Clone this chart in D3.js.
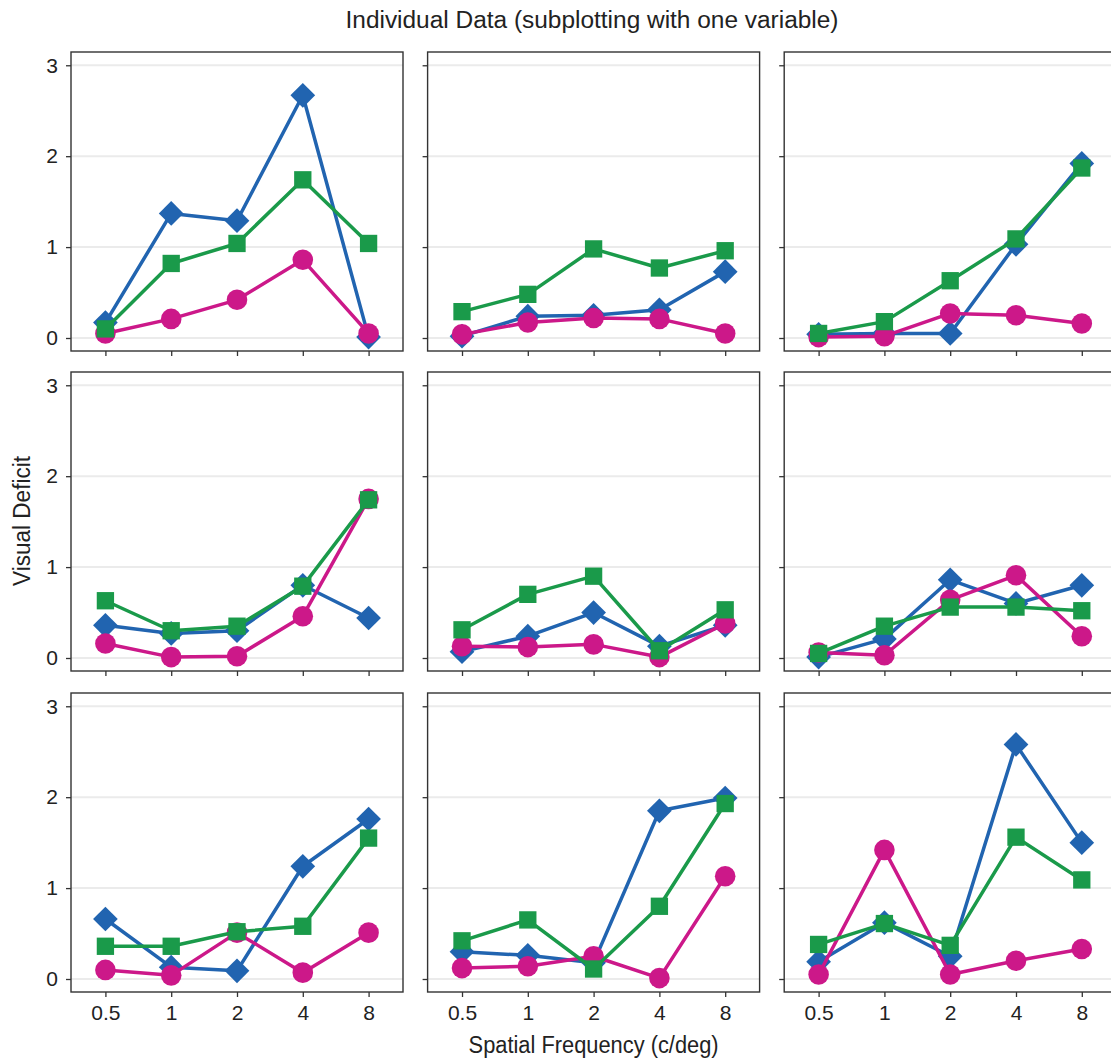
<!DOCTYPE html>
<html>
<head>
<meta charset="utf-8">
<script src="https://cdn.jsdelivr.net/npm/d3@7"></script>
<style>
  body { margin: 0; background: #fff; }
  svg { display: block; }
  text { font-family: "Liberation Sans", Arial, sans-serif; fill: #222; }
</style>
</head>
<body>
<svg id="chart" width="1111" height="1063"></svg>
<script>
// Spatial frequencies (c/deg) shown along every x axis
const frequencies = ["0.5", "1", "2", "4", "8"];
const yTicks = [0, 1, 2, 3];

// One row of five values per observer (panels read left-to-right, top-to-bottom)
const diamondSeries = [
  [0.17, 1.37, 1.29, 2.67, 0.01],
  [0.02, 0.24, 0.25, 0.31, 0.73],
  [0.04, 0.05, 0.05, 1.03, 1.92],
  [0.36, 0.27, 0.30, 0.80, 0.44],
  [0.07, 0.24, 0.50, 0.13, 0.36],
  [0.01, 0.21, 0.86, 0.60, 0.80],
  [0.66, 0.13, 0.09, 1.24, 1.76],
  [0.30, 0.26, 0.18, 1.85, 1.99],
  [0.19, 0.62, 0.25, 2.58, 1.50]
];
const circleSeries = [
  [0.05, 0.21, 0.42, 0.86, 0.05],
  [0.04, 0.17, 0.22, 0.21, 0.05],
  [0.01, 0.02, 0.27, 0.25, 0.16],
  [0.16, 0.01, 0.02, 0.46, 1.75],
  [0.13, 0.12, 0.15, 0.01, 0.38],
  [0.06, 0.03, 0.64, 0.91, 0.24],
  [0.10, 0.04, 0.51, 0.07, 0.51],
  [0.12, 0.14, 0.25, 0.01, 1.13],
  [0.05, 1.42, 0.05, 0.20, 0.33]
];
const squareSeries = [
  [0.10, 0.82, 1.04, 1.74, 1.04],
  [0.29, 0.48, 0.98, 0.77, 0.96],
  [0.05, 0.18, 0.63, 1.09, 1.87],
  [0.63, 0.30, 0.35, 0.79, 1.74],
  [0.31, 0.70, 0.90, 0.08, 0.53],
  [0.05, 0.35, 0.56, 0.56, 0.52],
  [0.36, 0.36, 0.52, 0.58, 1.55],
  [0.42, 0.65, 0.11, 0.80, 1.93],
  [0.38, 0.61, 0.37, 1.56, 1.09]
];

// Drawing order: diamonds first, circles next, squares on top
const layers = [
  { values: diamondSeries, color: "#2164b0", shape: "diamond" },
  { values: circleSeries,  color: "#cc1889", shape: "circle" },
  { values: squareSeries,  color: "#1a9a4a", shape: "square" }
];

const svg = d3.select("#chart");
const colLeft = [71, 427.6, 784.2];
const rowTop = [52, 372, 693];
const panelW = 332, panelH = 299;

const x = d3.scalePoint().domain(frequencies).range([0, panelW]).padding(0.523);
const y = d3.scaleLinear().domain([-0.143, 3.146]).range([panelH, 0]);

const shapeGen = {
  diamond: d3.symbol(d3.symbolSquare, 306),
  circle: d3.symbol(d3.symbolCircle, 333),
  square: d3.symbol(d3.symbolSquare, 300)
};

const line = d3.line().x((d, i) => x(frequencies[i])).y(d => y(d));

for (let p = 0; p < 9; p++) {
  const r = Math.floor(p / 3), c = p % 3;
  const g = svg.append("g").attr("transform", `translate(${colLeft[c]},${rowTop[r]})`);

  // horizontal grid
  g.selectAll("line.grid").data(yTicks).join("line")
    .attr("class", "grid")
    .attr("x1", 0).attr("x2", panelW)
    .attr("y1", d => y(d)).attr("y2", d => y(d))
    .attr("stroke", "#ebebeb").attr("stroke-width", 2);

  // series
  layers.forEach(layer => {
    const vals = layer.values[p];
    g.append("path").datum(vals)
      .attr("d", line)
      .attr("fill", "none")
      .attr("stroke", layer.color)
      .attr("stroke-width", 3.5)
      .attr("stroke-linejoin", "round");
    g.selectAll(null).data(vals).join("path")
      .attr("d", shapeGen[layer.shape])
      .attr("transform", (d, i) => `translate(${x(frequencies[i])},${y(d)})` + (layer.shape === "diamond" ? " rotate(45)" : ""))
      .attr("fill", layer.color);
  });

  // axes
  const yAxis = d3.axisLeft(y).tickValues(yTicks).tickSize(5).tickPadding(8)
    .tickFormat(c === 0 ? d3.format("d") : () => "");
  const xAxis = d3.axisBottom(x).tickSize(5).tickPadding(8)
    .tickFormat(r === 2 ? (d => d) : () => "");

  const ya = g.append("g").call(yAxis);
  const xa = g.append("g").attr("transform", `translate(0,${panelH})`).call(xAxis);
  [ya, xa].forEach(a => {
    a.attr("font-family", null).attr("font-size", null);
    a.select(".domain").remove();
    a.selectAll(".tick line").attr("stroke", "#333").attr("stroke-width", 1.3);
    a.selectAll(".tick text").attr("fill", "#222").style("font-size", "21px");
  });

  // frame
  g.append("rect").attr("x", 0).attr("y", 0).attr("width", panelW).attr("height", panelH)
    .attr("fill", "none").attr("stroke", "#333").attr("stroke-width", 1.4);
}

// titles, squeezed to a narrow set width
svg.append("text").attr("x", 592).attr("y", 28).attr("text-anchor", "middle")
  .attr("textLength", 493).attr("lengthAdjust", "spacingAndGlyphs")
  .style("font-size", "23px").text("Individual Data (subplotting with one variable)");
svg.append("text").attr("x", 593.6).attr("y", 1053).attr("text-anchor", "middle")
  .attr("textLength", 250).attr("lengthAdjust", "spacingAndGlyphs")
  .style("font-size", "23px").text("Spatial Frequency (c/deg)");
svg.append("text").attr("transform", "translate(30,521) rotate(-90)").attr("text-anchor", "middle")
  .attr("textLength", 130).attr("lengthAdjust", "spacingAndGlyphs")
  .style("font-size", "23px").text("Visual Deficit");
</script>
</body>
</html>
